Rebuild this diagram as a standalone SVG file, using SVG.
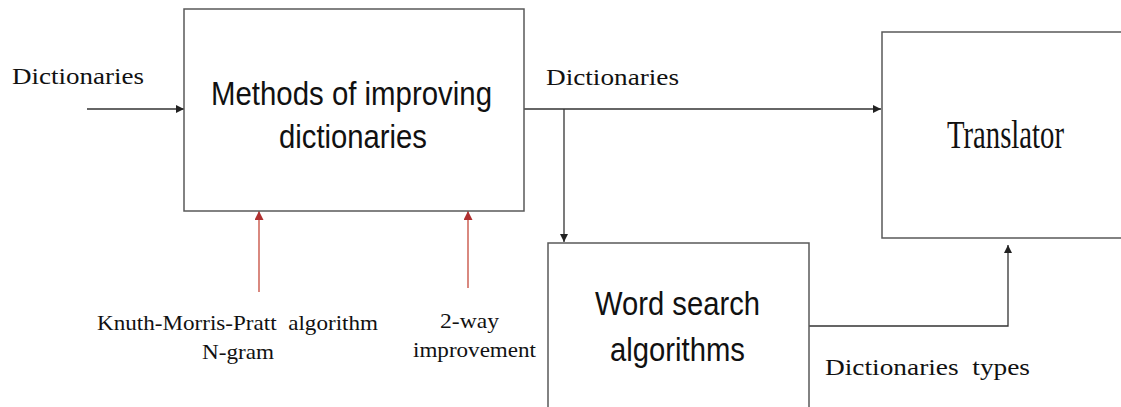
<svg xmlns="http://www.w3.org/2000/svg" width="1121" height="407" viewBox="0 0 1121 407">
<style>
.box{fill:#fff;stroke:#595959;stroke-width:1.5}
.ln{fill:none;stroke:#333;stroke-width:1.3}
.red{fill:none;stroke:#c0392b;stroke-width:1.2}
.sans{font-family:"Liberation Sans",Arial,sans-serif;fill:#111}
.serif{font-family:"Liberation Serif","Times New Roman",serif;fill:#111}
</style>
<defs>
<marker id="ah" viewBox="0 0 10 10" refX="10" refY="5" markerWidth="8" markerHeight="8" markerUnits="userSpaceOnUse" orient="auto"><path d="M0,0 L10,5 L0,10 z" fill="#222"/></marker>
<marker id="ahr" viewBox="0 0 10 10" refX="10" refY="5" markerWidth="9" markerHeight="9" markerUnits="userSpaceOnUse" orient="auto"><path d="M0,0 L10,5 L0,10 z" fill="#b03030"/></marker>
</defs>
<rect width="1121" height="407" fill="#fff"/>
<g id="connectors">
<line class="ln" x1="87" y1="109" x2="184" y2="109" marker-end="url(#ah)"/>
<line class="ln" x1="524" y1="109" x2="881" y2="109" marker-end="url(#ah)"/>
<line class="ln" x1="564" y1="109" x2="564" y2="242" marker-end="url(#ah)"/>
<polyline class="ln" points="809,326 1008,326 1008,245" marker-end="url(#ah)"/>
<line class="red" x1="259" y1="292" x2="259" y2="211" marker-end="url(#ahr)"/>
<line class="red" x1="468" y1="288" x2="468" y2="211" marker-end="url(#ahr)"/>
<text class="serif" x="12" y="84" font-size="24" textLength="132" lengthAdjust="spacingAndGlyphs">Dictionaries</text>
<text class="serif" x="546" y="85" font-size="24" textLength="133" lengthAdjust="spacingAndGlyphs">Dictionaries</text>
<text class="serif" x="825" y="375" font-size="24" textLength="205" lengthAdjust="spacingAndGlyphs">Dictionaries&#160; types</text>
<text class="serif" x="97" y="330" font-size="21" textLength="281" lengthAdjust="spacingAndGlyphs">Knuth-Morris-Pratt&#160; algorithm</text>
<text class="serif" x="202" y="359" font-size="21" textLength="72" lengthAdjust="spacingAndGlyphs">N-gram</text>
<text class="serif" x="440" y="328" font-size="21" textLength="59" lengthAdjust="spacingAndGlyphs">2-way</text>
<text class="serif" x="413" y="357" font-size="21" textLength="123" lengthAdjust="spacingAndGlyphs">improvement</text>
</g>
<g id="methods">
<rect class="box" x="184" y="9" width="340" height="202"/>
<text class="sans" x="211" y="105" font-size="34" textLength="281" lengthAdjust="spacingAndGlyphs">Methods of improving</text>
<text class="sans" x="279" y="148" font-size="34" textLength="148" lengthAdjust="spacingAndGlyphs">dictionaries</text>
</g>
<g id="translator">
<rect class="box" x="882" y="32" width="245" height="206"/>
<text class="serif" x="947" y="148" font-size="39" textLength="117" lengthAdjust="spacingAndGlyphs">Translator</text>
</g>
<g id="wordsearch">
<rect class="box" x="548" y="243" width="261" height="175"/>
<text class="sans" x="595" y="315" font-size="34" textLength="165" lengthAdjust="spacingAndGlyphs">Word search</text>
<text class="sans" x="610" y="361" font-size="34" textLength="135" lengthAdjust="spacingAndGlyphs">algorithms</text>
</g>
</svg>
